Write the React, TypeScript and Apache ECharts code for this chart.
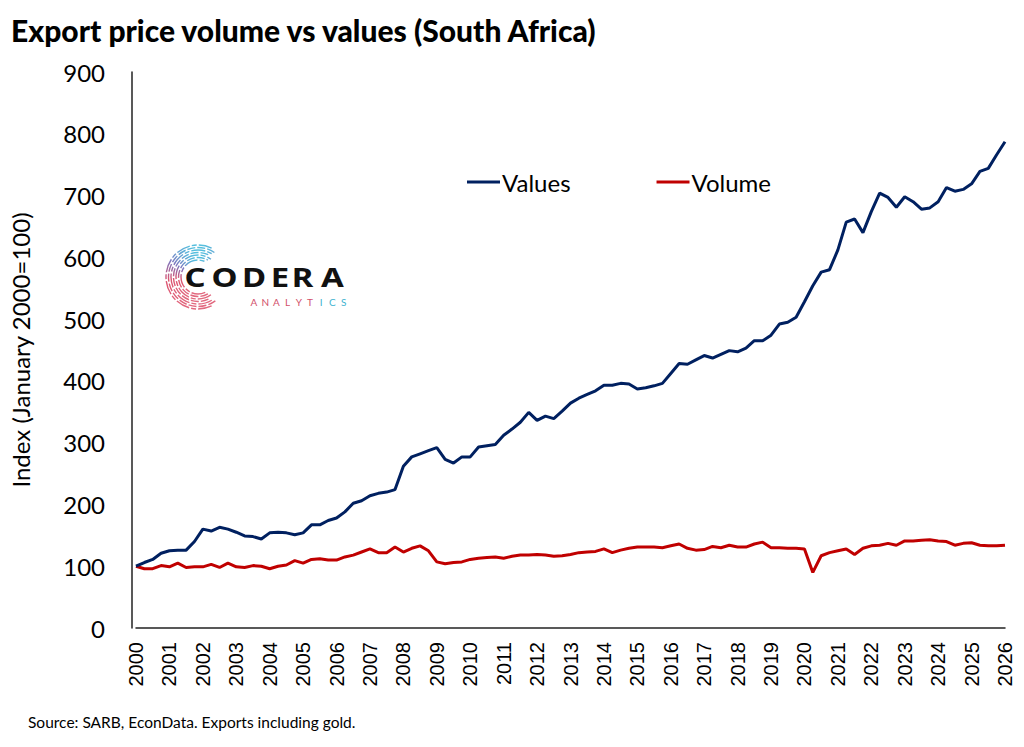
import React, { useEffect, useRef } from "react";
import * as echarts from "echarts";

const startYear = 2000;
const yTicks = [0, 100, 200, 300, 400, 500, 600, 700, 800, 900];

// Quarterly index values, 2000Q1 .. 2026Q1
const valuesSeries = [
  100, 106, 111, 121, 125, 126, 126, 140, 160, 157,
  163, 160, 155, 149, 148, 144, 154, 155, 154, 151,
  154, 167, 167, 174, 178, 188, 202, 206, 214, 218,
  220, 224, 262, 277, 282, 287, 292, 273, 267, 277,
  277, 293, 295, 297, 312, 322, 333, 349, 336, 343,
  339, 351, 364, 372, 378, 384, 393, 393, 396, 395,
  387, 389, 392, 396, 412, 428, 427, 434, 441, 437,
  443, 449, 447, 453, 465, 465, 474, 492, 495, 503,
  528, 554, 576, 580, 612, 657, 662, 640, 674, 704,
  697, 681, 698, 690, 678, 680, 690, 713, 707, 710,
  719, 739, 744, 766, 787,
];

const volumeSeries = [
  100, 96, 96, 101, 99, 105, 98, 99, 99, 103,
  98, 105, 99, 98, 101, 100, 96, 100, 102, 109,
  105, 111, 112, 110, 110, 115, 118, 123, 128, 122,
  122, 131, 123, 129, 133, 125, 107, 104, 106, 107,
  111, 113, 114, 115, 113, 116, 118, 118, 119, 118,
  116, 117, 119, 122, 123, 124, 128, 122, 126, 129,
  131, 131, 131, 130, 133, 136, 129, 126, 127, 132,
  130, 134, 131, 131, 136, 139, 130, 130, 129, 129,
  128, 90, 117, 122, 125, 128, 119, 129, 133, 134,
  137, 134, 141, 141, 142, 143, 141, 140, 134, 137,
  138, 134, 133, 133, 134,
];

const seriesNames = ["Values", "Volume"];
const titleText = "Export price volume vs values (South Africa)";
const yAxisName = "Index (January 2000=100)";
const sourceText = "Source: SARB, EconData. Exports including gold.";
const logoLetters = ["C", "O", "D", "E", "R", "A"];
const logoLetterX = [195, 224.5, 254, 280, 302.5, 332.5];
const logoSubLetters = ["A", "N", "A", "L", "Y", "T", "I", "C", "S"];

const toPairs = (arr: number[]) => arr.map((v, i) => [startYear + i / 4, v]);

export default function App() {
  const ref = useRef<HTMLDivElement>(null);
  useEffect(() => {
    if (!ref.current) return;
    const chart = echarts.init(ref.current, undefined, { renderer: "svg" });

    const logo: any[] = [];
    const grad = () =>
      new echarts.graphic.LinearGradient(0, 0, 0, 1, [
        { offset: 0, color: "#55c0de" },
        { offset: 0.25, color: "#7d78c0" },
        { offset: 0.55, color: "#dc5470" },
        { offset: 1, color: "#e26a80" },
      ]);
    const radii = [17, 19.5, 22, 24.5, 27, 29.5, 32];
    radii.forEach((r, i) => {
      const span = 0.36 - (i % 3) * 0.03;
      logo.push({
        type: "arc",
        shape: {
          cx: 198,
          cy: 277,
          r,
          startAngle: Math.PI * span,
          endAngle: Math.PI * (2 - span),
          clockwise: true,
        },
        style: {
          stroke: grad(),
          lineWidth: 1.4,
          fill: "none",
          lineDash: i % 2 === 0 ? [14, 2, 5, 2] : [8, 2],
        },
        silent: true,
      });
    });
    logoLetters.forEach((l, i) => {
      logo.push({
        type: "text",
        x: logoLetterX[i],
        y: 277,
        scaleX: 1.22,
        style: {
          text: l,
          font: "bold 27px 'Noto Sans', sans-serif",
          fill: "#111",
          align: "center",
          verticalAlign: "middle",
        },
        silent: true,
      });
    });
    logoSubLetters.forEach((l, i) => {
      logo.push({
        type: "text",
        x: 254 + i * 11.2,
        y: 302,
        style: {
          text: l,
          font: "10px Lato, sans-serif",
          fill: i >= 6 ? "#3fb3d0" : "#d2506a",
          align: "center",
          verticalAlign: "middle",
        },
        silent: true,
      });
    });

    chart.setOption({
      animation: false,
      backgroundColor: "#ffffff",
      title: {
        text: titleText,
        left: 6,
        top: 10,
        textStyle: {
          fontFamily: "Lato",
          fontWeight: 900,
          fontSize: 30,
          color: "#000",
        },
      },
      legend: {
        left: 462,
        top: 165,
        itemGap: 86,
        itemWidth: 33,
        itemHeight: 3,
        icon: "rect",
        data: seriesNames,
        textStyle: {
          fontFamily: "Lato",
          fontSize: 24,
          color: "#000",
          padding: [0, 0, 0, -3],
        },
      },
      grid: { left: 130, right: 19, top: 72, bottom: 119 },
      xAxis: {
        type: "value",
        min: 2000,
        max: 2026,
        interval: 1,
        axisLine: { show: true, onZero: false, lineStyle: { color: "#222", width: 1.5 } },
        axisTick: { show: false },
        splitLine: { show: false },
        axisLabel: {
          rotate: 90,
          margin: 14,
          fontFamily: "'Liberation Sans', Arial, sans-serif",
          fontSize: 20,
          color: "#000",
          formatter: (v: number) => String(Math.round(v)),
        },
      },
      yAxis: {
        type: "value",
        min: yTicks[0],
        max: yTicks[yTicks.length - 1],
        interval: 100,
        offset: 4,
        name: yAxisName,
        nameLocation: "middle",
        nameGap: 100,
        nameTextStyle: { fontFamily: "Lato", fontSize: 24, color: "#000" },
        axisLine: { show: true, lineStyle: { color: "#222", width: 1.5 } },
        axisTick: { show: false },
        splitLine: { show: false },
        axisLabel: {
          margin: 27,
          fontFamily: "Lato",
          fontSize: 24,
          color: "#000",
        },
      },
      series: [
        {
          name: seriesNames[0],
          type: "line",
          data: toPairs(valuesSeries),
          showSymbol: false,
          symbol: "none",
          lineStyle: { color: "#002060", width: 3 },
          itemStyle: { color: "#002060" },
          z: 3,
        },
        {
          name: seriesNames[1],
          type: "line",
          data: toPairs(volumeSeries),
          showSymbol: false,
          symbol: "none",
          lineStyle: { color: "#c00000", width: 3 },
          itemStyle: { color: "#c00000" },
          z: 2,
        },
      ],
      graphic: [
        ...logo,
        {
          type: "text",
          x: 28,
          y: 722,
          style: {
            text: sourceText,
            font: "15.5px Lato, sans-serif",
            fill: "#000",
            verticalAlign: "middle",
          },
          silent: true,
        },
      ],
    });
    return () => chart.dispose();
  }, []);
  return (
    <div
      ref={ref}
      style={{ position: "fixed", left: 0, top: 0, width: 1024, height: 747 }}
    />
  );
}
